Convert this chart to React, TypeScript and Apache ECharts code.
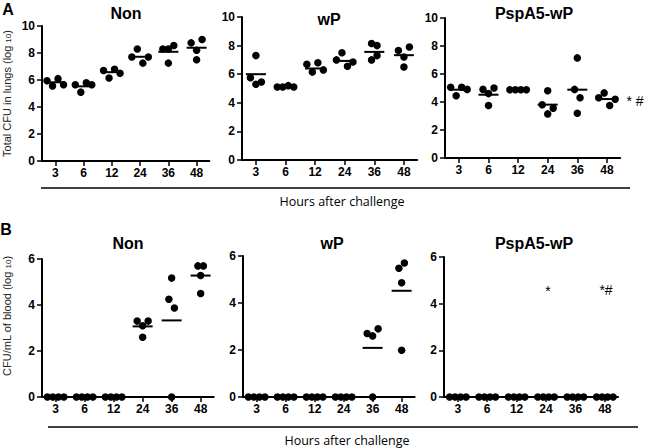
import React, { useEffect, useRef } from "react";
import * as echarts from "echarts";

// ---------- DATA ----------
const hours = ["3", "6", "12", "24", "36", "48"];

// Panel A: Total CFU in lungs (log10), 4 mice per time point
const lungNon = [
  [5.95, 5.55, 6.1, 5.65],
  [5.65, 5.1, 5.8, 5.65],
  [6.7, 6.15, 6.8, 6.5],
  [7.7, 8.3, 7.25, 7.7],
  [8.3, 7.25, 8.3, 8.55],
  [8.75, 7.5, 8.2, 9.0],
];
const lungNonMean = [5.83, 5.53, 6.58, 7.72, 8.09, 8.39];

const lungWP = [
  [5.75, 7.3, 5.3, 5.45],
  [5.1, 5.1, 5.2, 5.1],
  [6.7, 6.15, 6.8, 6.3],
  [7.0, 7.5, 6.55, 6.85],
  [8.15, 7.0, 8.0, 7.3],
  [7.65, 6.5, 7.2, 7.9],
];
const lungWPMean = [6.0, 5.16, 6.4, 6.93, 7.56, 7.33];

const lungPsp = [
  [5.05, 4.45, 5.05, 4.9],
  [4.9, 3.75, 4.6, 5.0],
  [4.88, 4.88, 4.88, 4.88],
  [3.8, 4.8, 3.15, 3.55],
  [4.9, 7.15, 3.2, 4.3],
  [4.3, 4.65, 3.75, 4.2],
];
const lungPspMean = [4.88, 4.52, 4.88, 3.81, 4.88, 4.21];

// Panel B: CFU/mL of blood (log10)
const bloodNon = [
  [0, 0, 0, 0],
  [0, 0, 0, 0],
  [0, 0, 0, 0],
  [3.3, 3.1, 2.6, 3.3],
  [4.25, 5.17, 0, 3.87],
  [5.7, 5.28, 4.5, 5.7],
];
const bloodNonMean = [0, 0, 0, 3.07, 3.33, 5.28];

const bloodWP = [
  [0, 0, 0, 0],
  [0, 0, 0, 0],
  [0, 0, 0, 0],
  [0, 0, 0, 0],
  [2.7, 2.6, 0, 2.9],
  [5.48, 4.86, 1.99, 5.7],
];
const bloodWPMean = [0, 0, 0, 0, 2.09, 4.52];

const bloodPsp = [
  [0, 0, 0, 0],
  [0, 0, 0, 0],
  [0, 0, 0, 0],
  [0, 0, 0, 0],
  [0, 0, 0, 0],
  [0, 0, 0, 0],
];
const bloodPspMean = [0, 0, 0, 0, 0, 0];

const lungYTitle = "Total CFU in lungs (log {s|10})";
const bloodYTitle = "CFU/mL of blood (log {s|10})";
const xTitle = "Hours after challenge";

// ---------- LAYOUT / STYLE ----------
const XMIN = -0.47;
const XMAX = 5.45;
const JIT_SPACING = 5.5;
const JIT_NEAR = 9;
const DOT = 7.5;

const panels = [
  { title: "Non", data: lungNon, mean: lungNonMean, ymax: 10, left: 40, top: 26, sp: 28.6, height: 135, tx: 126, ty: 13, yname: lungYTitle },
  { title: "wP", data: lungWP, mean: lungWPMean, ymax: 10, left: 242, top: 17, sp: 29.6, height: 143, tx: 329, ty: 19 },
  { title: "PspA5-wP", data: lungPsp, mean: lungPspMean, ymax: 10, left: 445, top: 18, sp: 29.6, height: 140, tx: 534, ty: 13 },
  { title: "Non", data: bloodNon, mean: bloodNonMean, ymax: 6, left: 42, top: 259, sp: 29.0, height: 138, tx: 128, ty: 243, yname: bloodYTitle, namePad: true },
  { title: "wP", data: bloodWP, mean: bloodWPMean, ymax: 6, left: 243, top: 256, sp: 29.0, height: 141, tx: 332, ty: 243 },
  { title: "PspA5-wP", data: bloodPsp, mean: bloodPspMean, ymax: 6, left: 444, top: 257, sp: 29.4, height: 140, tx: 534, ty: 243 },
];

function jitter(vals: number[], pxPerUnit: number): number[] {
  const parent = vals.map((_, i) => i);
  const find = (i: number): number => (parent[i] === i ? i : (parent[i] = find(parent[i])));
  for (let i = 0; i < vals.length; i++)
    for (let j = i + 1; j < vals.length; j++)
      if (Math.abs(vals[i] - vals[j]) * pxPerUnit < JIT_NEAR) parent[find(j)] = find(i);
  const groups: Record<number, number[]> = {};
  vals.forEach((_, i) => {
    const r = find(i);
    (groups[r] = groups[r] || []).push(i);
  });
  const off = vals.map(() => 0);
  Object.values(groups).forEach((idx) => {
    const m = idx.length;
    idx.forEach((id, k) => (off[id] = (k - (m - 1) / 2) * JIT_SPACING));
  });
  return off;
}

const FONT = "Liberation Sans, Arial, sans-serif";

function buildOption() {
  const grid: any[] = [];
  const xAxis: any[] = [];
  const yAxis: any[] = [];
  const series: any[] = [];

  panels.forEach((p, i) => {
    grid.push({ left: p.left, top: p.top, width: p.sp * (XMAX - XMIN), height: p.height });
    xAxis.push({
      type: "value",
      gridIndex: i,
      min: XMIN,
      max: XMAX,
      splitLine: { show: false },
      axisLine: { show: true, onZero: false, lineStyle: { color: "#000", width: 2 } },
      axisTick: { show: true, length: 5, customValues: [0, 1, 2, 3, 4, 5], lineStyle: { color: "#000", width: 1.5 } },
      axisLabel: {
        customValues: [0, 1, 2, 3, 4, 5],
        formatter: (v: number) => {
          const k = Math.round(v);
          return Math.abs(k - v) < 1e-6 && k >= 0 && k < hours.length ? hours[k] : "";
        },
        margin: 6,
        color: "#000",
        fontWeight: "bold",
        fontSize: 12,
        fontFamily: FONT,
      },
    });
    yAxis.push({
      type: "value",
      gridIndex: i,
      min: 0,
      max: p.ymax,
      interval: 2,
      splitLine: { show: false },
      axisLine: { show: true, onZero: false, lineStyle: { color: "#000", width: 2 } },
      axisTick: { show: true, length: 5, lineStyle: { color: "#000", width: 1.5 } },
      axisLabel: { margin: 7, color: "#000", fontWeight: "bold", fontSize: 12, fontFamily: FONT },
      name: p.yname || "",
      nameLocation: "middle",
      nameRotate: 90,
      nameGap: 30,
      nameTextStyle: {
        color: "#222",
        fontSize: 11,
        fontFamily: FONT,
        padding: p.namePad ? [0, 0, 0, 24] : 0,
        rich: { s: { fontSize: 8, verticalAlign: "bottom", fontFamily: FONT, color: "#222", padding: [3, 0, 0, 0] } },
      },
    });

    const pxPerUnit = p.height / p.ymax;
    const dots: any[] = [];
    p.data.forEach((vals, g) => {
      const offs = jitter(vals, pxPerUnit);
      vals.forEach((v, k) => dots.push({ value: [g, v], symbolOffset: [offs[k], 0] }));
    });
    series.push({
      type: "scatter",
      xAxisIndex: i,
      yAxisIndex: i,
      symbol: "circle",
      symbolSize: DOT,
      itemStyle: { color: "#000", opacity: 1 },
      clip: false,
      z: 3,
      data: dots,
    });
    series.push({
      type: "scatter",
      xAxisIndex: i,
      yAxisIndex: i,
      symbol: "rect",
      symbolSize: [20, 2],
      itemStyle: { color: "#000", opacity: 1 },
      clip: false,
      z: 4,
      data: p.mean.map((m, g) => [g, m]),
    });
  });

  const text = (x: number, y: number, t: string, font: string, extra: any = {}) => ({
    type: "text",
    x,
    y,
    style: { text: t, font, fill: "#000", align: "center", verticalAlign: "middle", ...extra },
  });

  const graphic: any[] = [
    text(8, 9, "A", `bold 16px ${FONT}`),
    text(6, 229, "B", `bold 16px ${FONT}`),
    ...panels.map((p) => text(p.tx, p.ty, p.title, `bold 16px ${FONT}`)),
    { type: "line", shape: { x1: 41, y1: 188, x2: 630, y2: 188 }, style: { stroke: "#000", lineWidth: 1.5 } },
    { type: "line", shape: { x1: 48, y1: 427, x2: 638, y2: 427 }, style: { stroke: "#000", lineWidth: 1.5 } },
    text(342, 201, xTitle, "12.5px Open Sans, sans-serif"),
    text(347, 440, xTitle, "12.5px Open Sans, sans-serif"),
    text(635, 101, "* #", `14px ${FONT}`),
    text(548, 291, "*", `14px ${FONT}`),
    text(606, 290, "*#", `14px ${FONT}`),
  ];

  return { animation: false, backgroundColor: "#fff", grid, xAxis, yAxis, series, graphic };
}

export default function App() {
  const ref = useRef<HTMLDivElement>(null);
  useEffect(() => {
    if (!ref.current) return;
    const chart = echarts.init(ref.current, undefined, { renderer: "svg" });
    chart.setOption(buildOption() as any);
    return () => chart.dispose();
  }, []);
  return <div ref={ref} style={{ position: "fixed", left: 0, top: 0, width: 650, height: 448, background: "#fff" }} />;
}
